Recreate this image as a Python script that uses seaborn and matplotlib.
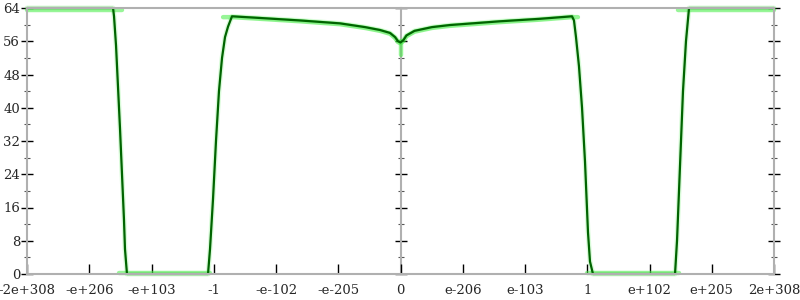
import matplotlib
matplotlib.use("Agg")
import matplotlib.pyplot as plt
import seaborn as sns
import pandas as pd

# ---- data (x in tick-index units, y values) ----
tick_pos = list(range(-6, 7))
tick_labels = ["-2e+308", "-e+206", "-e+103", "-1", "-e-102", "-e-205", "0",
               "e-206", "e-103", "1", "e+102", "e+205", "2e+308"]
y_major = list(range(0, 65, 8))
y_minor = list(range(4, 64, 8))

dark_x = [-6.0, -4.618, -4.602, -4.570, -4.538, -4.506, -4.474, -4.442, -4.426, -4.394,
          -3.092, -3.060, -3.012, -2.964, -2.916, -2.867, -2.819, -2.771, -2.707,
          -2.257, -1.614, -0.972, -0.570, -0.329, -0.169, -0.088, -0.040, 0.0,
          0.048, 0.096, 0.225, 0.506, 0.795, 1.598, 2.241, 2.755,
          2.787, 2.819, 2.867, 2.916, 2.964, 3.012, 3.044, 3.092,
          4.410, 4.442, 4.474, 4.506, 4.538, 4.586, 4.635, 6.0]
dark_y = [64, 64, 62, 55, 45, 35, 24, 13, 6, 0,
          0, 6, 18, 32, 44, 52, 57, 59.5, 62,
          61.6, 61.0, 60.3, 59.4, 58.7, 58.0, 57.0, 56.0, 55.7,
          56.3, 57.4, 58.5, 59.4, 59.9, 60.8, 61.4, 62.0,
          61.0, 57, 50, 40, 27, 10, 3, 0,
          0, 8, 20, 32, 44, 56, 64, 64]

light_top_left_x = [-6.0, -4.474]
light_top_left_y = [63.6, 63.6]
light_zero_left_x = [-4.52, -3.06]
light_zero_left_y = [0.2, 0.2]
light_mid_x = [-2.85, -2.707, -2.257, -1.614, -0.972, -0.570, -0.329, -0.169, -0.088, -0.040, 0.0,
               0.048, 0.096, 0.225, 0.506, 0.795, 1.598, 2.241, 2.755, 2.85]
light_mid_y = [61.8, 61.8, 61.4, 60.8, 60.1, 59.2, 58.5, 57.8, 56.8, 55.8, 55.5,
               56.1, 57.2, 58.3, 59.2, 59.7, 60.6, 61.2, 61.8, 61.8]
light_dip_x = [0.0, 0.0]
light_dip_y = [52.7, 56.0]
light_zero_right_x = [3.0, 4.47]
light_zero_right_y = [0.2, 0.2]
light_top_right_x = [4.45, 6.0]
light_top_right_y = [63.6, 63.6]

# ---- figure ----
sns.set_style("white")
plt.rcParams["font.family"] = ["DejaVu Serif", "DejaVu Sans"]

fig = plt.figure(figsize=(8, 3), dpi=100)
ax = fig.add_axes([27 / 800, 26 / 300, (774 - 27) / 800, (274 - 8) / 300])

light_col = "#44ee44"
sns.lineplot(x=dark_x, y=dark_y, ax=ax, color=light_col, linewidth=3.5, alpha=0.2,
             sort=False, estimator=None, clip_on=False)
for lx, ly in [(light_top_left_x, light_top_left_y), (light_zero_left_x, light_zero_left_y),
               (light_mid_x, light_mid_y), (light_dip_x, light_dip_y),
               (light_zero_right_x, light_zero_right_y), (light_top_right_x, light_top_right_y)]:
    sns.lineplot(x=lx, y=ly, ax=ax, color=light_col, linewidth=3.2, alpha=0.55,
                 sort=False, estimator=None, clip_on=False)
sns.lineplot(x=dark_x, y=dark_y, ax=ax, color="#006400", linewidth=1.6,
             sort=False, estimator=None, clip_on=False)

ax.set_xlim(-6, 6)
ax.set_ylim(0, 64)
ax.set_xlabel("")
ax.set_ylabel("")

gray = "#b0b0b0"
for s in ax.spines.values():
    s.set_color(gray)
    s.set_linewidth(1.5)
    s.set_visible(True)

ax.set_xticks(tick_pos)
ax.set_xticklabels(tick_labels, fontsize=9.5)
ax.set_yticks(y_major)
ax.set_yticks(y_minor, minor=True)
ax.set_yticklabels([str(v) for v in y_major], fontsize=9.5)

ax.tick_params(axis="x", which="major", direction="in", length=7, width=1, color="black",
               bottom=True, top=False, pad=7)
ax.tick_params(axis="y", which="major", direction="inout", length=8, width=1, color="black",
               left=True, right=True, labelright=False, pad=1)
ax.tick_params(axis="y", which="minor", direction="inout", length=4, width=0.8, color="#555555",
               left=True, right=True)

sec = ax.secondary_yaxis(0.5)
sec.set_yticks(y_major)
sec.set_yticks(y_minor, minor=True)
sec.set_yticklabels([])
sec.tick_params(axis="y", which="major", direction="inout", length=8, width=1, color="black")
sec.tick_params(axis="y", which="minor", direction="inout", length=4, width=0.8, color="#555555")
for s in sec.spines.values():
    s.set_color(gray)
    s.set_linewidth(1.5)

ax.grid(False)
fig.savefig("out.png", dpi=100)
